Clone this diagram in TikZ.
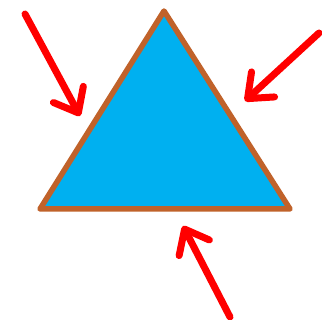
\documentclass[tikz,border=0pt]{standalone}
\usetikzlibrary{arrows.meta}

\definecolor{triblue}{HTML}{00B0F0}
\definecolor{tribrown}{HTML}{C0622A}
\definecolor{arrred}{HTML}{FF0000}

\tikzset{
  pointer/.style={arrred, line width=7pt, line cap=round,
    -{Straight Barb[length=21pt, width=34pt, line cap=round, line join=round]}},
}

\begin{document}
\begin{tikzpicture}[x=1pt, y=-1pt]
  \useasboundingbox (0,0) rectangle (322,320);
  % triangle
  \coordinate (apex) at (164,11);
  \coordinate (left) at (40,209);
  \coordinate (right) at (290,209);
  \draw[tribrown, fill=triblue, line width=5.5pt, line join=round]
    (apex) -- (left) -- (right) -- cycle;
  % arrows
  \coordinate (t1) at (25,14);   \coordinate (h1) at (80,116);
  \coordinate (t2) at (319,33);  \coordinate (h2) at (245,101);
  \coordinate (t3) at (230,317); \coordinate (h3) at (183,226);
  \draw[pointer] (t1) -- (h1);
  \draw[pointer] (t2) -- (h2);
  \draw[pointer] (t3) -- (h3);
\end{tikzpicture}
\end{document}
